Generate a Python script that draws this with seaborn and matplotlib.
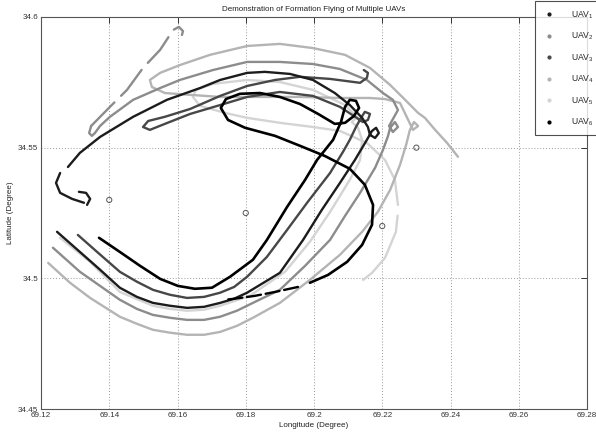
import numpy as np
import pandas as pd
import seaborn as sns
import matplotlib.pyplot as plt
from matplotlib.lines import Line2D

nan = np.nan

# flight tracks (lon, lat); nan = break in the track
uav1_lon = [69.1247, 69.1314, 69.1373, 69.1431, 69.1481, 69.1528, 69.1578, 69.1628, 69.1678, 69.1725,
            69.1766, 69.1804, 69.1900, 69.1968,
            69.2023, 69.2076, 69.2120, 69.2155, 69.2170, 69.2182, 69.2190, 69.2179, 69.2164, 69.2158,
            69.2141, 69.2105, 69.2061, 69.1997, 69.1930, 69.1856, 69.1804, 69.1725, 69.1666, 69.1569,
            69.1470, 69.1373, 69.1314, 69.1279, nan,
            69.1256, 69.1244, 69.1256, 69.1291, 69.1326, nan,
            69.1311, 69.1332, 69.1344, 69.1335]
uav1_lat = [34.5178, 34.5101, 34.5033, 34.4964, 34.4929, 34.4906, 34.4895, 34.4887, 34.4891, 34.4906,
            34.4922, 34.4945, 34.5021, 34.5147,
            34.5262, 34.5365, 34.5453, 34.5530, 34.5564, 34.5576, 34.5556, 34.5537, 34.5549, 34.5579,
            34.5614, 34.5663, 34.5709, 34.5759, 34.5782, 34.5790, 34.5786, 34.5759, 34.5728, 34.5683,
            34.5618, 34.5541, 34.5480, 34.5426, nan,
            34.5403, 34.5365, 34.5327, 34.5304, 34.5289, nan,
            34.5331, 34.5327, 34.5304, 34.5281]

uav2_lon = [69.1235, 69.1314, 69.1431, 69.1481, 69.1528, 69.1578, 69.1628, 69.1678, 69.1725, 69.1774,
            69.1821, 69.1900, 69.1974, 69.2047,
            69.2091, 69.2135, 69.2179, 69.2202, 69.2217, 69.2223, 69.2237, 69.2246, 69.2231, 69.2220,
            69.2246, 69.2231, 69.2202, 69.2155, 69.2076, 69.1997, 69.1900, 69.1804, 69.1704, 69.1607,
            69.1549, 69.1470, 69.1402, 69.1373, 69.1358, 69.1349, 69.1341, 69.1347]
uav2_lat = [34.5117, 34.5025, 34.4918, 34.4883, 34.4860, 34.4849, 34.4841, 34.4841, 34.4853, 34.4876,
            34.4906, 34.4956, 34.5048, 34.5147,
            34.5239, 34.5327, 34.5423, 34.5491, 34.5545, 34.5576, 34.5598, 34.5579, 34.5560, 34.5583,
            34.5644, 34.5683, 34.5709, 34.5759, 34.5801, 34.5820, 34.5828, 34.5828, 34.5797, 34.5759,
            34.5728, 34.5683, 34.5618, 34.5583, 34.5556, 34.5545, 34.5556, 34.5583]
uav2_dash_lon = [69.1347, 69.1402, 69.1452, 69.1499, 69.1549, 69.1587, 69.1604, 69.1616, 69.1613]
uav2_dash_lat = [34.5583, 34.5656, 34.5721, 34.5805, 34.5874, 34.5950, 34.5962, 34.5946, 34.5931]

uav3_lon = [69.1308, 69.1367, 69.1431, 69.1481, 69.1528, 69.1578, 69.1628, 69.1678, 69.1725, 69.1766,
            69.1804, 69.1862, 69.1921, 69.1982,
            69.2047, 69.2085, 69.2105, 69.2123, 69.2138, 69.2149, 69.2164, 69.2158, 69.2144, 69.2076,
            69.1997, 69.1900, 69.1804, 69.1725, 69.1637, 69.1563, 69.1519, 69.1499, 69.1514, 69.1563,
            69.1637, 69.1725, 69.1804, 69.1886, 69.1959, 69.2047, 69.2135, 69.2155, 69.2158, 69.2146]
uav3_lat = [34.5166, 34.5098, 34.5025, 34.4987, 34.4956, 34.4937, 34.4925, 34.4929, 34.4945, 34.4967,
            34.5006, 34.5082, 34.5185, 34.5293,
            34.5403, 34.5484, 34.5530, 34.5579, 34.5614, 34.5637, 34.5629, 34.5606, 34.5598, 34.5656,
            34.5698, 34.5713, 34.5694, 34.5663, 34.5629, 34.5591, 34.5568, 34.5579, 34.5602, 34.5618,
            34.5648, 34.5698, 34.5736, 34.5759, 34.5771, 34.5763, 34.5748, 34.5767, 34.5786, 34.5797]

uav4_lon = [69.1221, 69.1285, 69.1344, 69.1431, 69.1481, 69.1528, 69.1578, 69.1628, 69.1678, 69.1725,
            69.1774, 69.1821, 69.1900, 69.1988,
            69.2076, 69.2141, 69.2187, 69.2223, 69.2252, 69.2270, 69.2281, 69.2293, 69.2305, 69.2290,
            69.2252, 69.2208, 69.2164, 69.2076, 69.1959, 69.1842, 69.1725, 69.1637, 69.1563, 69.1525,
            69.1519, 69.1549, 69.1607, 69.1695, 69.1804, 69.1900, 69.1997, 69.2091, 69.2164, 69.2223,
            69.2267, 69.2305, 69.2325, 69.2355, 69.2390, 69.2422]
uav4_lat = [34.5059, 34.4983, 34.4925, 34.4853, 34.4826, 34.4803, 34.4792, 34.4784, 34.4784, 34.4795,
            34.4818, 34.4849, 34.4906, 34.4994,
            34.5090, 34.5178, 34.5254, 34.5338, 34.5434, 34.5511, 34.5568, 34.5598, 34.5583, 34.5568,
            34.5671, 34.5686, 34.5690, 34.5690, 34.5694, 34.5694, 34.5694, 34.5702, 34.5709, 34.5732,
            34.5759, 34.5786, 34.5816, 34.5855, 34.5889, 34.5897, 34.5881, 34.5855, 34.5805, 34.5740,
            34.5683, 34.5633, 34.5614, 34.5568, 34.5518, 34.5465]

uav5_lon = [69.1256, 69.1344, 69.1431, 69.1528, 69.1578, 69.1628, 69.1678, 69.1725, 69.1812, 69.1915,
            69.1988, 69.2047,
            69.2105, 69.2135, 69.2141, 69.2129, 69.2111, 69.2123, 69.2141, 69.2091, 69.1997, 69.1900,
            69.1804, 69.1704, 69.1654, 69.1645, 69.1666, 69.1739, 69.1804, 69.1900, 69.1997, 69.2076,
            69.2155, 69.2208, 69.2237, 69.2246, nan, 69.2245, 69.2240, 69.2208, 69.2170, 69.2144]
uav5_lat = [34.5155, 34.5063, 34.4948, 34.4895, 34.4883, 34.4876, 34.4880, 34.4895, 34.4933, 34.5025,
            34.5140, 34.5254,
            34.5377, 34.5453, 34.5530, 34.5576, 34.5598, 34.5614, 34.5598, 34.5663, 34.5721, 34.5751,
            34.5759, 34.5744, 34.5721, 34.5694, 34.5660, 34.5633, 34.5614, 34.5595, 34.5579, 34.5564,
            34.5518, 34.5453, 34.5377, 34.5281, nan, 34.5240, 34.5178, 34.5078, 34.5021, 34.4994]

uav6_lon = [69.1370, 69.1431, 69.1490, 69.1549, 69.1601, 69.1651, 69.1701, 69.1754, 69.1821, 69.1862,
            69.1921, 69.1974, 69.2009, 69.2056, 69.2079, 69.2091, 69.2105, 69.2123, 69.2132, 69.2117,
            69.2091, 69.2061, 69.2012, 69.1959, 69.1900, 69.1842, 69.1783, 69.1742, 69.1727, 69.1748,
            69.1798, 69.1886, 69.1959, 69.2032, 69.2105, 69.2149, 69.2173, 69.2170, 69.2141, 69.2097,
            69.2041, 69.1988]
uav6_lat = [34.5155, 34.5101, 34.5048, 34.4998, 34.4971, 34.4960, 34.4964, 34.5006, 34.5071, 34.5147,
            34.5273, 34.5377, 34.5453, 34.5530, 34.5598, 34.5656, 34.5683, 34.5679, 34.5652, 34.5621,
            34.5595, 34.5591, 34.5629, 34.5667, 34.5694, 34.5709, 34.5706, 34.5686, 34.5652, 34.5606,
            34.5576, 34.5545, 34.5507, 34.5468, 34.5419, 34.5358, 34.5281, 34.5205, 34.5128, 34.5063,
            34.5013, 34.4983]
uav6_dash_lon = [69.1953, 69.1886, 69.1827, 69.1768, 69.1739]
uav6_dash_lat = [34.4967, 34.4948, 34.4933, 34.4922, 34.4918]

# waypoints (circles)
wp_lon = [69.14, 69.18, 69.22, 69.23]
wp_lat = [34.530, 34.525, 34.520, 34.550]

labels = ['UAV$_1$', 'UAV$_2$', 'UAV$_3$', 'UAV$_4$', 'UAV$_5$', 'UAV$_6$']
colors = ['#1c1c1c', '#8c8c8c', '#474747', '#b4b4b4', '#d4d4d4', '#000000']
xticks = [69.12, 69.14, 69.16, 69.18, 69.2, 69.22, 69.24, 69.26, 69.28]
xtick_labels = ['69.12', '69.14', '69.16', '69.18', '69.2', '69.22', '69.24', '69.26', '69.28']
yticks = [34.45, 34.5, 34.55, 34.6]
ytick_labels = ['34.45', '34.5', '34.55', '34.6']

sns.set_style("white")
plt.rcParams['font.family'] = ['Liberation Sans', 'DejaVu Sans']
plt.rcParams['mathtext.default'] = 'regular'
fs = 5.8

fig = plt.figure(figsize=(5.96, 4.34), dpi=100)
ax = fig.add_axes([0.0688, 0.0576, 0.9161, 0.9033])


def draw(lon, lat, color, lw, ls='-'):
    # split on nan and draw each piece as its own line
    df = pd.DataFrame({'lon': lon, 'lat': lat})
    df['piece'] = df['lon'].isna().cumsum()
    df = df.dropna()
    for _, g in df.groupby('piece'):
        sns.lineplot(data=g, x='lon', y='lat', sort=False, estimator=None,
                     color=color, lw=lw, ls=ls, ax=ax, legend=False,
                     solid_joinstyle='round', solid_capstyle='round', dash_capstyle='round')


draw(uav5_lon, uav5_lat, colors[4], 1.7)
draw(uav4_lon, uav4_lat, colors[3], 1.7)
draw(uav2_lon, uav2_lat, colors[1], 1.7)
draw(uav2_dash_lon, uav2_dash_lat, colors[1], 1.7, ls=(0, (14, 4)))
draw(uav3_lon, uav3_lat, colors[2], 1.7)
draw(uav1_lon, uav1_lat, colors[0], 1.7)
draw(uav6_lon, uav6_lat, colors[5], 1.9)
draw(uav6_dash_lon, uav6_dash_lat, colors[5], 1.7, ls=(0, (6, 2)))

sns.scatterplot(x=wp_lon, y=wp_lat, marker='o', s=14, facecolor='none',
                edgecolor='#555555', linewidth=0.7, ax=ax, zorder=5)

ax.set_xlim(69.12, 69.28)
ax.set_ylim(34.45, 34.6)
ax.set_xticks(xticks)
ax.set_xticklabels(xtick_labels)
ax.set_yticks(yticks)
ax.set_yticklabels(ytick_labels)
ax.grid(True, linestyle=(0, (1, 2)), color='#999999', lw=0.7)
ax.tick_params(direction='in', length=4, width=0.7, labelsize=fs, colors='#333333',
               top=True, right=True, pad=2)
for s in ax.spines.values():
    s.set_color('#555555')
    s.set_linewidth(0.8)

ax.set_title('Demonstration of Formation Flying of Multiple UAVs', fontsize=fs, pad=4, color='#222222')
ax.set_xlabel('Longitude (Degree)', fontsize=fs, labelpad=2, color='#222222')
ax.set_ylabel('Latitude (Degree)', fontsize=fs, labelpad=3, color='#222222')

handles = [Line2D([], [], marker='.', ls='', color=c, markersize=4) for c in colors]
leg = fig.legend(handles, labels, loc='upper left', bbox_to_anchor=(0.898, 0.997),
                 fontsize=fs + 0.4, frameon=True, fancybox=False, edgecolor='#222222',
                 labelspacing=1.05, handletextpad=1.8, borderpad=0.8, handlelength=1.6,
                 borderaxespad=0)
leg.get_frame().set_linewidth(0.8)

fig.savefig('out.png', dpi=100)
